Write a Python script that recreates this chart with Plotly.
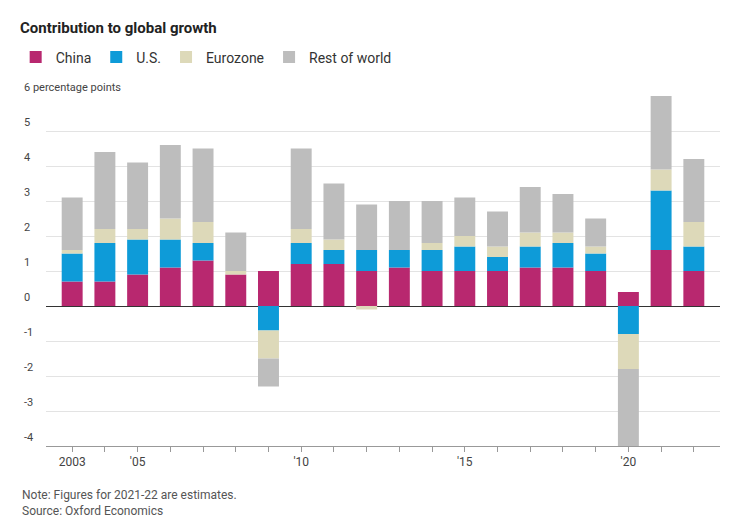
import plotly.graph_objects as go

years = list(range(2003, 2023))
china = [0.7, 0.7, 0.9, 1.1, 1.3, 0.9, 1.0, 1.2, 1.2, 1.0, 1.1, 1.0, 1.0, 1.0, 1.1, 1.1, 1.0, 0.4, 1.6, 1.0]
us = [0.8, 1.1, 1.0, 0.8, 0.5, 0.0, -0.7, 0.6, 0.4, 0.6, 0.5, 0.6, 0.7, 0.4, 0.6, 0.7, 0.5, -0.8, 1.7, 0.7]
eurozone = [0.1, 0.4, 0.3, 0.6, 0.6, 0.1, -0.8, 0.4, 0.3, -0.1, 0.0, 0.2, 0.3, 0.3, 0.4, 0.3, 0.2, -1.0, 0.6, 0.7]
rest = [1.5, 2.2, 1.9, 2.1, 2.1, 1.1, -0.8, 2.3, 1.6, 1.3, 1.4, 1.2, 1.1, 1.0, 1.3, 1.1, 0.8, -2.4, 2.1, 1.8]

x_tickvals = [2003, 2005, 2010, 2015, 2020]
x_ticktext = ["2003", "'05", "'10", "'15", "'20"]
y_tickvals = [-4, -3, -2, -1, 0, 1, 2, 3, 4, 5, 6]
y_ticktext = ["-4", "-3", "-2", "-1", "0", "1", "2", "3", "4", "5", "6 percentage points"]

series = [("China", china, "#b8286f"), ("U.S.", us, "#0e9bd8"),
          ("Eurozone", eurozone, "#ddd9b9"), ("Rest of world", rest, "#bdbdbd")]

fig = go.Figure()
for name, vals, color in series:
    fig.add_trace(go.Bar(x=years, y=vals, name=name, marker_color=color,
                         marker_line_width=0))

fig.update_layout(
    width=730, height=520,
    barmode="relative", bargap=0.36,
    plot_bgcolor="white", paper_bgcolor="white",
    font=dict(family="Roboto", size=12, color="#333"),
    margin=dict(l=38, r=18, t=88, b=82, autoexpand=False),
    title=dict(text="<b>Contribution to global growth</b>", x=12 / 730, y=1 - 20 / 520,
               xanchor="left", yanchor="middle", font=dict(size=15, color="#222")),
    legend=dict(orientation="h", x=-0.045, y=1.11, xanchor="left", yanchor="middle",
                font=dict(size=14, color="#333"), traceorder="normal"),
    showlegend=True,
)
fig.update_xaxes(tickvals=years, ticktext=[x_ticktext[x_tickvals.index(y)] if y in x_tickvals else "" for y in years],
                 ticks="outside", ticklen=5, tickcolor="#999", showline=True, linecolor="#999",
                 range=[2002.2, 2022.8], showgrid=False, tickfont=dict(size=12, color="#444"))
fig.update_yaxes(range=[-4, 6], tickvals=y_tickvals, showticklabels=False,
                 showgrid=True, gridcolor="#e3e3e3",
                 zeroline=True, zerolinecolor="#333", zerolinewidth=1)

for v, t in zip(y_tickvals, y_ticktext):
    fig.add_annotation(text=t, xref="paper", yref="y", x=-0.035, y=v, xanchor="left",
                       yanchor="bottom", showarrow=False, font=dict(size=11, color="#444"))

fig.add_annotation(text="Note: Figures for 2021-22 are estimates.<br>Source: Oxford Economics",
                   xref="paper", yref="paper", x=-0.039, y=-0.115, xanchor="left", yanchor="top",
                   align="left", showarrow=False, font=dict(size=12, color="#555"))

fig.write_html("out.html")
